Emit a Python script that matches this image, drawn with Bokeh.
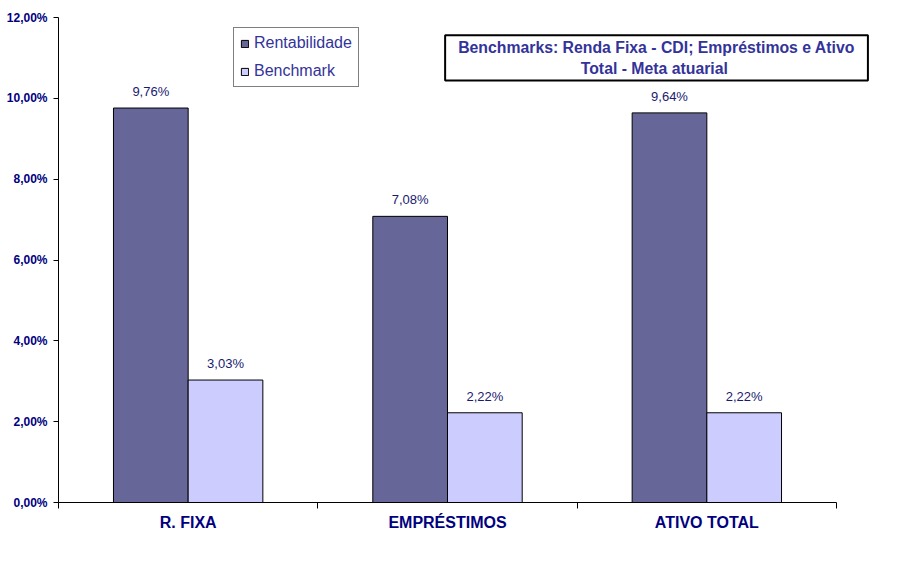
from bokeh.plotting import figure
from bokeh.models import ColumnDataSource, FixedTicker, Range1d, Legend, LegendItem, Label
from bokeh.core.properties import value
from bokeh.embed import file_html
from bokeh.resources import INLINE

categories = ["R. FIXA", "EMPRÉSTIMOS", "ATIVO TOTAL"]
rentabilidade = [9.76, 7.08, 9.64]
benchmark = [3.03, 2.22, 2.22]
y_ticks = [0, 2, 4, 6, 8, 10, 12]
y_tick_labels = ["0,00%", "2,00%", "4,00%", "6,00%", "8,00%", "10,00%", "12,00%"]
series_names = ["Rentabilidade", "Benchmark"]
title_text = "Benchmarks: Renda Fixa - CDI; Empréstimos e Ativo\nTotal -  Meta atuarial"

NAVY = "#000080"
TITLE_C = "#333399"
FONT = "Liberation Sans"
C_DARK = "#666699"
C_LIGHT = "#CCCCFF"

def fmt(v):
    return f"{v:.2f}".replace(".", ",") + "%"

n = len(categories)
centers = [i + 0.5 for i in range(n)]
bw = 0.288
off = 0.144

src_r = ColumnDataSource(dict(x=[c - off for c in centers], top=rentabilidade,
                              lab=[fmt(v) for v in rentabilidade]))
src_b = ColumnDataSource(dict(x=[c + off for c in centers], top=benchmark,
                              lab=[fmt(v) for v in benchmark]))

# frame extends past the last category so the title box is not clipped
p = figure(width=902, height=567, output_backend="svg", toolbar_location=None,
           x_range=Range1d(0, n * 812 / 778), y_range=Range1d(0, 12),
           min_border_left=58, min_border_right=32, min_border_top=17, min_border_bottom=65)
p.outline_line_color = None
p.xgrid.visible = False
p.ygrid.visible = False
p.background_fill_color = "white"
p.border_fill_color = "white"

r1 = p.vbar(x="x", top="top", width=bw, source=src_r, fill_color=C_DARK, line_color="black", line_width=1)
r2 = p.vbar(x="x", top="top", width=bw, source=src_b, fill_color=C_LIGHT, line_color="black", line_width=1)

for s in (src_r, src_b):
    p.text(x="x", y="top", text="lab", source=s, text_align="center", text_baseline="bottom",
           y_offset=-9, text_font=value(FONT), text_font_size="13px", text_color="#1a1a70")

# x axis
xa = p.xaxis[0]
xa.bounds = (0, n)
xa.ticker = FixedTicker(ticks=centers, minor_ticks=list(range(n + 1)))
xa.major_label_overrides = {c: categories[i] for i, c in enumerate(centers)}
xa.major_tick_out = 0
xa.major_tick_in = 0
xa.minor_tick_out = 6
xa.minor_tick_in = 0
xa.minor_tick_line_color = "black"
xa.axis_line_color = "black"
xa.major_label_text_font = FONT
xa.major_label_text_font_size = "16px"
xa.major_label_text_font_style = "bold"
xa.major_label_text_color = NAVY
xa.major_label_standoff = 5

# y axis
ya = p.yaxis[0]
ya.ticker = FixedTicker(ticks=y_ticks, minor_ticks=[])
ya.major_label_overrides = {t: y_tick_labels[i] for i, t in enumerate(y_ticks)}
ya.major_tick_out = 5
ya.major_tick_in = 0
ya.minor_tick_out = 0
ya.minor_tick_in = 0
ya.axis_line_color = "black"
ya.major_tick_line_color = "black"
ya.major_label_text_font = FONT
ya.major_label_text_font_size = "12px"
ya.major_label_text_font_style = "bold"
ya.major_label_text_color = NAVY
ya.major_label_standoff = 6

legend = Legend(items=[LegendItem(label=series_names[0], renderers=[r1]),
                       LegendItem(label=series_names[1], renderers=[r2])],
                location=(175, 415), orientation="vertical",
                border_line_color="black", border_line_width=1,
                background_fill_color="white", background_fill_alpha=1.0,
                label_text_font=FONT, label_text_font_size="16px", label_text_color=TITLE_C,
                glyph_width=9, glyph_height=9, label_standoff=5, label_height=18,
                spacing=10, padding=6, margin=0)
p.add_layout(legend, "center")

title = Label(x=2.306, y=11.0, text=title_text, text_align="center", text_baseline="middle",
              text_font=FONT, text_font_size="15.8px", text_font_style="bold", text_color=TITLE_C,
              border_line_color="black", border_line_width=2, background_fill_color="white",
              padding=(13, 4))
p.add_layout(title)

open("out.html", "w").write(file_html(p, INLINE))
